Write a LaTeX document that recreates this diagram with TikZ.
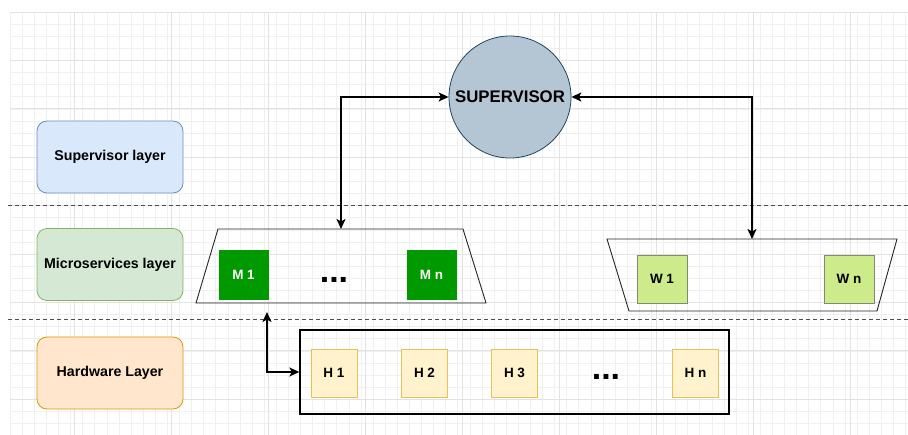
\documentclass[tikz,border=0pt]{standalone}
\usepackage{fontspec}
\setmainfont{Liberation Sans}
\usetikzlibrary{arrows.meta}
\definecolor{supfill}{HTML}{DAE8FC}
\definecolor{supdraw}{HTML}{6C8EBF}
\definecolor{micfill}{HTML}{D5E8D4}
\definecolor{micdraw}{HTML}{82B366}
\definecolor{hwfill}{HTML}{FFE6CC}
\definecolor{hwdraw}{HTML}{D79B00}
\definecolor{cirfill}{HTML}{B4C6D4}
\definecolor{cirdraw}{HTML}{23445D}
\definecolor{mgreen}{HTML}{009900}
\definecolor{wfill}{HTML}{CDEB8B}
\definecolor{wdraw}{HTML}{7F8A70}
\definecolor{hfill}{HTML}{FFF2CC}
\definecolor{hdraw}{HTML}{E6C15A}
\definecolor{gridminor}{HTML}{F0F0F0}
\definecolor{gridmajor}{HTML}{E2E2E2}
\tikzset{
  layerbox/.style={draw, rounded corners=10pt, line width=0.8pt, minimum width=146pt, minimum height=72pt, inner sep=0pt, font=\fontsize{14.2}{16}\selectfont\bfseries},
  mbox/.style={fill=mgreen, draw=mgreen, minimum width=49pt, minimum height=49pt, inner sep=0pt, text=white, font=\fontsize{13.5}{15}\selectfont\bfseries},
  wbox/.style={fill=wfill, draw=wdraw, line width=0.6pt, minimum width=50pt, minimum height=48pt, inner sep=0pt, font=\fontsize{13.5}{15}\selectfont\bfseries},
  hbox/.style={fill=hfill, draw=hdraw, line width=0.7pt, minimum width=46pt, minimum height=48pt, inner sep=0pt, font=\fontsize{13.5}{15}\selectfont\bfseries},
  trap/.style={draw=black!85, line width=0.9pt, line join=miter},
  dashline/.style={draw=black!70, line width=0.9pt, dash pattern=on 4pt off 3pt},
  conn/.style={draw=black, line width=1.7pt, {Stealth[length=10pt,width=9pt,inset=2.5pt]}-{Stealth[length=10pt,width=9pt,inset=2.5pt]}},
  dotsnode/.style={anchor=base, inner sep=0pt, font=\fontsize{34}{36}\selectfont\bfseries}
}
\begin{document}
\begin{tikzpicture}[x=1pt,y=-1pt]
\useasboundingbox (0,0) rectangle (908,435);
\fill[white] (0,0) rectangle (908,435);
% grid
\foreach \xx in {10,22.1,...,908} \draw[gridminor, line width=0.5pt] (\xx,12) -- (\xx,435);
\foreach \yy in {12,24.1,...,435} \draw[gridminor, line width=0.5pt] (10,\yy) -- (908,\yy);
\foreach \xx in {74,171,...,908} \draw[gridmajor, line width=0.7pt] (\xx,12) -- (\xx,435);
\foreach \yy in {12,60.4,...,435} \draw[gridmajor, line width=0.7pt] (10,\yy) -- (908,\yy);

% dashed separators
\draw[dashline] (8,205) -- (908,205);
\draw[dashline] (8,319) -- (908,319);

% layer labels
\node[layerbox, fill=supfill, draw=supdraw] (suplayer) at (110,157) {Supervisor layer};
\node[layerbox, fill=micfill, draw=micdraw] (miclayer) at (110,264.5) {Microservices layer};
\node[layerbox, fill=hwfill, draw=hwdraw] (hwlayer) at (110,373) {Hardware Layer};

% supervisor
\node[circle, fill=cirfill, draw=cirdraw, line width=0.8pt, minimum size=122pt, inner sep=0pt, font=\fontsize{16.8}{18}\selectfont\bfseries] (sup) at (510,97) {SUPERVISOR};

% microservices trapezoid
\draw[trap] (218,229) -- (463,229) -- (486,303) -- (196,303) -- cycle;
\coordinate (mtop) at (341,229);
\coordinate (mbot) at (267,312);
\node[mbox] (m1) at (243.5,274.5) {M 1};
\node[mbox] (mn) at (431.5,274.5) {M n};
\node[dotsnode] (mdots) at (334,283) {...};

% worker trapezoid
\draw[trap] (607,239) -- (897,239) -- (877,311) -- (629,311) -- cycle;
\coordinate (wtop) at (752,239);
\node[wbox] (w1) at (662,279) {W 1};
\node[wbox] (wn) at (849,279) {W n};

% hardware
\node[draw=black, line width=1.3pt, minimum width=429pt, minimum height=84pt, inner sep=0pt] (hw) at (514.5,372) {};
\node[hbox] (h1) at (334,373) {H 1};
\node[hbox] (h2) at (424.5,373) {H 2};
\node[hbox] (h3) at (514.5,373) {H 3};
\node[hbox] (hn) at (695.5,373) {H n};
\node[dotsnode] (hdots) at (606,380) {...};

% connectors
\draw[conn] (mtop) |- (sup.west);
\draw[conn] (sup.east) -| (wtop);
\draw[conn] (mbot) |- (hw.west);
\end{tikzpicture}
\end{document}
